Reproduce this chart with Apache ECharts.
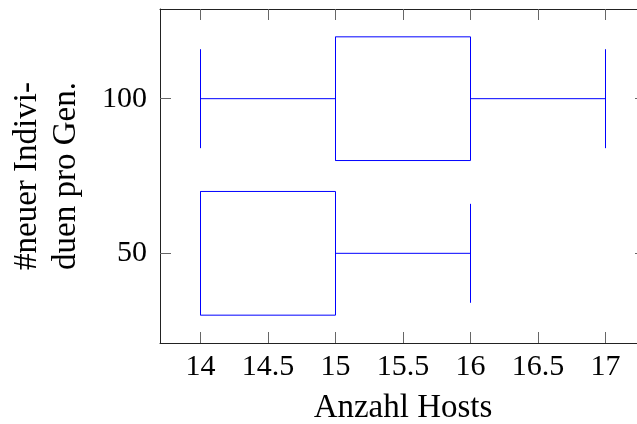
<!DOCTYPE html>
<html>
<head>
<meta charset="utf-8">
<script src="https://cdn.jsdelivr.net/npm/echarts@6/dist/echarts.min.js"></script>
<style>
  html, body { margin: 0; padding: 0; background: #fff; overflow: hidden; }
  #frame { position: relative; width: 637px; height: 424px; overflow: hidden; }
  /* the plot frame runs a little past the right edge of the visible area */
  #chart { position: absolute; left: 0; top: 0; width: 646px; height: 424px; }
</style>
</head>
<body>
<div id="frame"><div id="chart"></div></div>
<script>
// Box plot statistics per group (#neuer Individuen pro Generation)
const groups = [50, 100];
const whiskerLow = [14, 14];
const lowerQuartile = [14, 15];
const medians = [14, 15];
const upperQuartile = [15, 16];
const whiskerHigh = [16, 17];

// Tick labels
const xTicks = [14, 14.5, 15, 15.5, 16, 16.5, 17];
const yTicks = [50, 100];

// Axis ranges
const xRange = [13.7, 17.3];
const yRange = [21, 129];

// Box and whisker-cap half heights, in y-axis units
const BOX_HALF = 20;
const CAP_HALF = 16;

const FONT = 'Liberation Serif';
const FONT_SIZE = 30;
const NAME_SIZE = 33;
const BLUE = '#0000ff';

const boxData = groups.map((g, i) => [
  g, whiskerLow[i], lowerQuartile[i], medians[i], upperQuartile[i], whiskerHigh[i]
]);

function renderBox(params, api) {
  const g = api.value(0);
  const lo = api.value(1), q1 = api.value(2), med = api.value(3),
        q3 = api.value(4), hi = api.value(5);
  const c = (x, y) => api.coord([x, y]);
  const style = { stroke: BLUE, fill: null, lineWidth: 1 };
  const line = (a, b) => ({
    type: 'line',
    shape: { x1: a[0], y1: a[1], x2: b[0], y2: b[1] },
    style: style
  });
  const tl = c(q1, g + BOX_HALF), br = c(q3, g - BOX_HALF);
  return {
    type: 'group',
    children: [
      // whiskers
      line(c(lo, g), c(q1, g)),
      line(c(q3, g), c(hi, g)),
      // caps
      line(c(lo, g + CAP_HALF), c(lo, g - CAP_HALF)),
      line(c(hi, g + CAP_HALF), c(hi, g - CAP_HALF)),
      // box
      {
        type: 'rect',
        shape: { x: tl[0], y: tl[1], width: br[0] - tl[0], height: br[1] - tl[1] },
        style: style
      },
      // median
      line(c(med, g + BOX_HALF), c(med, g - BOX_HALF))
    ]
  };
}

const axisLine = { show: true, lineStyle: { color: '#222', width: 1 } };
const tickStyle = { color: '#666', width: 1 };
const labelText = { fontFamily: FONT, fontSize: FONT_SIZE, color: '#000' };
const nameText = { fontFamily: FONT, fontSize: NAME_SIZE, color: '#000' };

const chart = echarts.init(document.getElementById('chart'), null, { renderer: 'canvas' });
chart.setOption({
  animation: false,
  backgroundColor: '#fff',
  grid: {
    left: 160, right: 0, top: 9, bottom: 81,
    containLabel: false, outerBoundsMode: 'none'
  },
  xAxis: [
    {
      type: 'value', min: xRange[0], max: xRange[1], position: 'bottom',
      name: 'Anzahl Hosts', nameLocation: 'middle', nameGap: 48,
      nameTextStyle: Object.assign({ lineHeight: 34 }, nameText),
      axisLine: axisLine,
      axisTick: { show: true, inside: true, length: 11, customValues: xTicks, lineStyle: tickStyle },
      axisLabel: Object.assign({ margin: 8, customValues: xTicks, lineHeight: 32 }, labelText),
      splitLine: { show: false }
    },
    {
      type: 'value', min: xRange[0], max: xRange[1], position: 'top',
      axisLine: axisLine,
      axisTick: { show: true, inside: true, length: 11, customValues: xTicks, lineStyle: tickStyle },
      axisLabel: { show: false },
      splitLine: { show: false }
    }
  ],
  yAxis: [
    {
      type: 'value', min: yRange[0], max: yRange[1], position: 'left',
      name: '#neuer Indivi-\nduen pro Gen.', nameLocation: 'middle', nameGap: 74, nameRotate: 90,
      nameTextStyle: Object.assign({ lineHeight: 39, align: 'center' }, nameText),
      axisLine: axisLine,
      axisTick: { show: true, inside: true, length: 11, customValues: yTicks, lineStyle: tickStyle },
      axisLabel: Object.assign({ margin: 13, customValues: yTicks }, labelText),
      splitLine: { show: false }
    },
    {
      type: 'value', min: yRange[0], max: yRange[1], position: 'right',
      axisLine: axisLine,
      axisTick: { show: true, inside: true, length: 11, customValues: yTicks, lineStyle: tickStyle },
      axisLabel: { show: false },
      splitLine: { show: false }
    }
  ],
  series: [
    {
      type: 'custom',
      xAxisIndex: 0,
      yAxisIndex: 0,
      renderItem: renderBox,
      encode: { x: [1, 2, 3, 4, 5], y: 0 },
      data: boxData,
      clip: false
    }
  ]
});
</script>
</body>
</html>
